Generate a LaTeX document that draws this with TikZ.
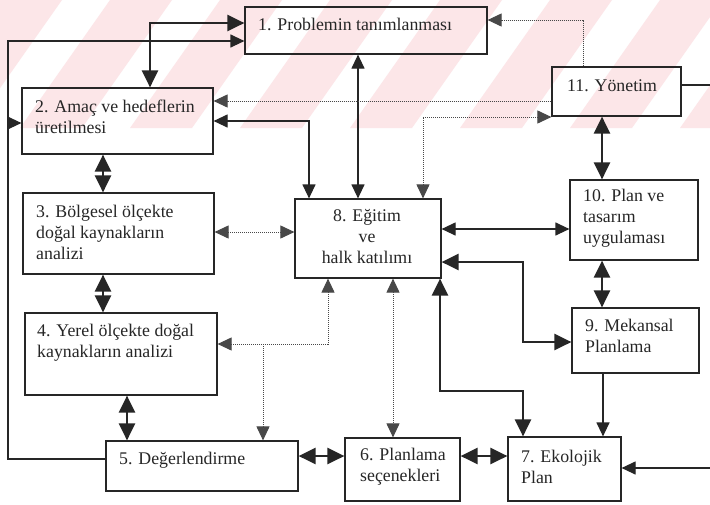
\documentclass[tikz,border=0pt]{standalone}
\usepackage{fontspec}
\setmainfont{Liberation Serif}
\usetikzlibrary{arrows.meta,fit}
\definecolor{ink}{HTML}{262626}
\definecolor{dotc}{HTML}{484848}
\definecolor{wm}{HTML}{FCE6E8}
\begin{document}
\begin{tikzpicture}[x=1pt,y=-1pt,
  box/.style={draw=ink, line width=1.2pt, inner sep=0pt, rectangle},
  txt/.style={font=\fontsize{17.8}{21}\selectfont, align=left, inner sep=0pt, text=ink, anchor=west},
  ln/.style={draw=ink, line width=1.2pt, >={Triangle[length=14pt,width=13pt]}},
  thk/.style={draw=ink, line width=2.6pt, >={Triangle[length=17pt,width=16pt]}},
  dot/.style={draw=dotc, line width=1pt, dash pattern=on 1pt off 1pt, >={Triangle[length=14pt,width=13pt]}}]
\useasboundingbox (0,0) rectangle (710,504);
\fill[white] (0,0) rectangle (710,504);
% faint watermark stripes of the scan
\begin{scope}
\clip (0,0) rectangle (710,128);
\foreach \a in {-200,-90,20,130,240,350,460,570,680}
  \fill[wm] (\a,128) -- (\a+62,128) -- (\a+152,0) -- (\a+90,0) -- cycle;
\end{scope}
% boxes
\node[box, fit={(245,7) (487,54)}] (n1) {};
\node[box, fit={(22,88) (213,154)}] (n2) {};
\node[box, fit={(23,193) (214,274)}] (n3) {};
\node[box, fit={(25,313) (217,395)}] (n4) {};
\node[box, fit={(106,441) (298,491)}] (n5) {};
\node[box, fit={(345,438) (460,501)}] (n6) {};
\node[box, fit={(508,437) (621,501)}] (n7) {};
\node[box, fit={(295,199) (441,278)}] (n8) {};
\node[box, fit={(572,308) (699,373)}] (n9) {};
\node[box, fit={(570,180) (698,260)}] (n10) {};
\node[box, fit={(552,67) (681,116)}] (n11) {};
% texts
\node[txt] (t1) at (258,24) {1. Problemin tanımlanması};
\node[txt] (t2) at (35,117) {2. Amaç ve hedeflerin\\üretilmesi};
\node[txt] (t3) at (36,232) {3. Bölgesel ölçekte\\doğal kaynakların\\analizi};
\node[txt] (t4) at (37,343) {4. Yerel ölçekte doğal\\kaynakların analizi};
\node[txt] (t5) at (119,460) {5. Değerlendirme};
\node[txt] (t6) at (360,467) {6. Planlama\\seçenekleri};
\node[txt] (t7) at (521,467) {7. Ekolojik\\Plan};
\node[txt, align=center, anchor=center] (t8) at (367,237) {8. Eğitim\\ve\\halk katılımı};
\node[txt] (t9) at (585,336) {9. Mekansal\\Planlama};
\node[txt] (t10) at (583,218) {10. Plan ve\\tasarım\\uygulaması};
\node[txt] (t11) at (567,86) {11. Yönetim};
% junction coordinates
\coordinate (L1) at (8,41);
\coordinate (L2) at (8,123);
\coordinate (J4) at (263,344);
\coordinate (R1) at (716,468);
% connectors
\draw[thk,<->] (n2.north -| 150,0) |- (n1.west |- 0,23);
\draw[ln,->] (n5.west |- 0,459) -| (L1) -- (n1.west |- L1);
\draw[ln,->] (L2) -- (n2.west |- L2);
\draw[ln,<->] (n1.south -| 358,0) -- (n8.north -| 358,0);
\draw[dot,->] (n11.north -| 583,0) |- (n1.east |- 0,20);
\draw[dot,->] (n11.west |- 0,101) -- (n2.east |- 0,101);
\draw[dot,<->] (n8.north -| 423,0) |- (n11.west |- 0,117);
\draw[ln,<->] (n2.east |- 0,121) -| (n8.north -| 309,0);
\draw[thk,<->] (n2.south -| 103,0) -- (n3.north -| 103,0);
\draw[dot,<->] (n3.east |- 0,232) -- (n8.west |- 0,232);
\draw[thk,<->] (n3.south -| 103,0) -- (n4.north -| 103,0);
\draw[dot,<->] (n4.east |- J4) -| (n8.south -| 328,0);
\draw[dot,->] (J4) -- (n5.north -| J4);
\draw[thk,<->] (n4.south -| 127,0) -- (n5.north -| 127,0);
\draw[dot,<->] (n8.south -| 393,0) -- (n6.north -| 393,0);
\draw[thk,<->] (n8.south -| 440,0) |- (523,391) -- (n7.north -| 523,0);
\draw[thk,<->] (n8.east |- 0,262) -| (523,342) -- (n9.west |- 0,342);
\draw[ln,<->] (n8.east |- 0,229) -- (n10.west |- 0,229);
\draw[thk,<->] (n11.south -| 602,0) -- (n10.north -| 602,0);
\draw[thk,<->] (n10.south -| 602,0) -- (n9.north -| 602,0);
\draw[ln,->] (n9.south -| 603,0) -- (n7.north -| 603,0);
\draw[ln,->] (n11.east |- 0,85) -| (R1) -- (n7.east |- R1);
\draw[thk,<->] (n5.east |- 0,456) -- (n6.west |- 0,456);
\draw[thk,<->] (n6.east |- 0,456) -- (n7.west |- 0,456);
\end{tikzpicture}
\end{document}
